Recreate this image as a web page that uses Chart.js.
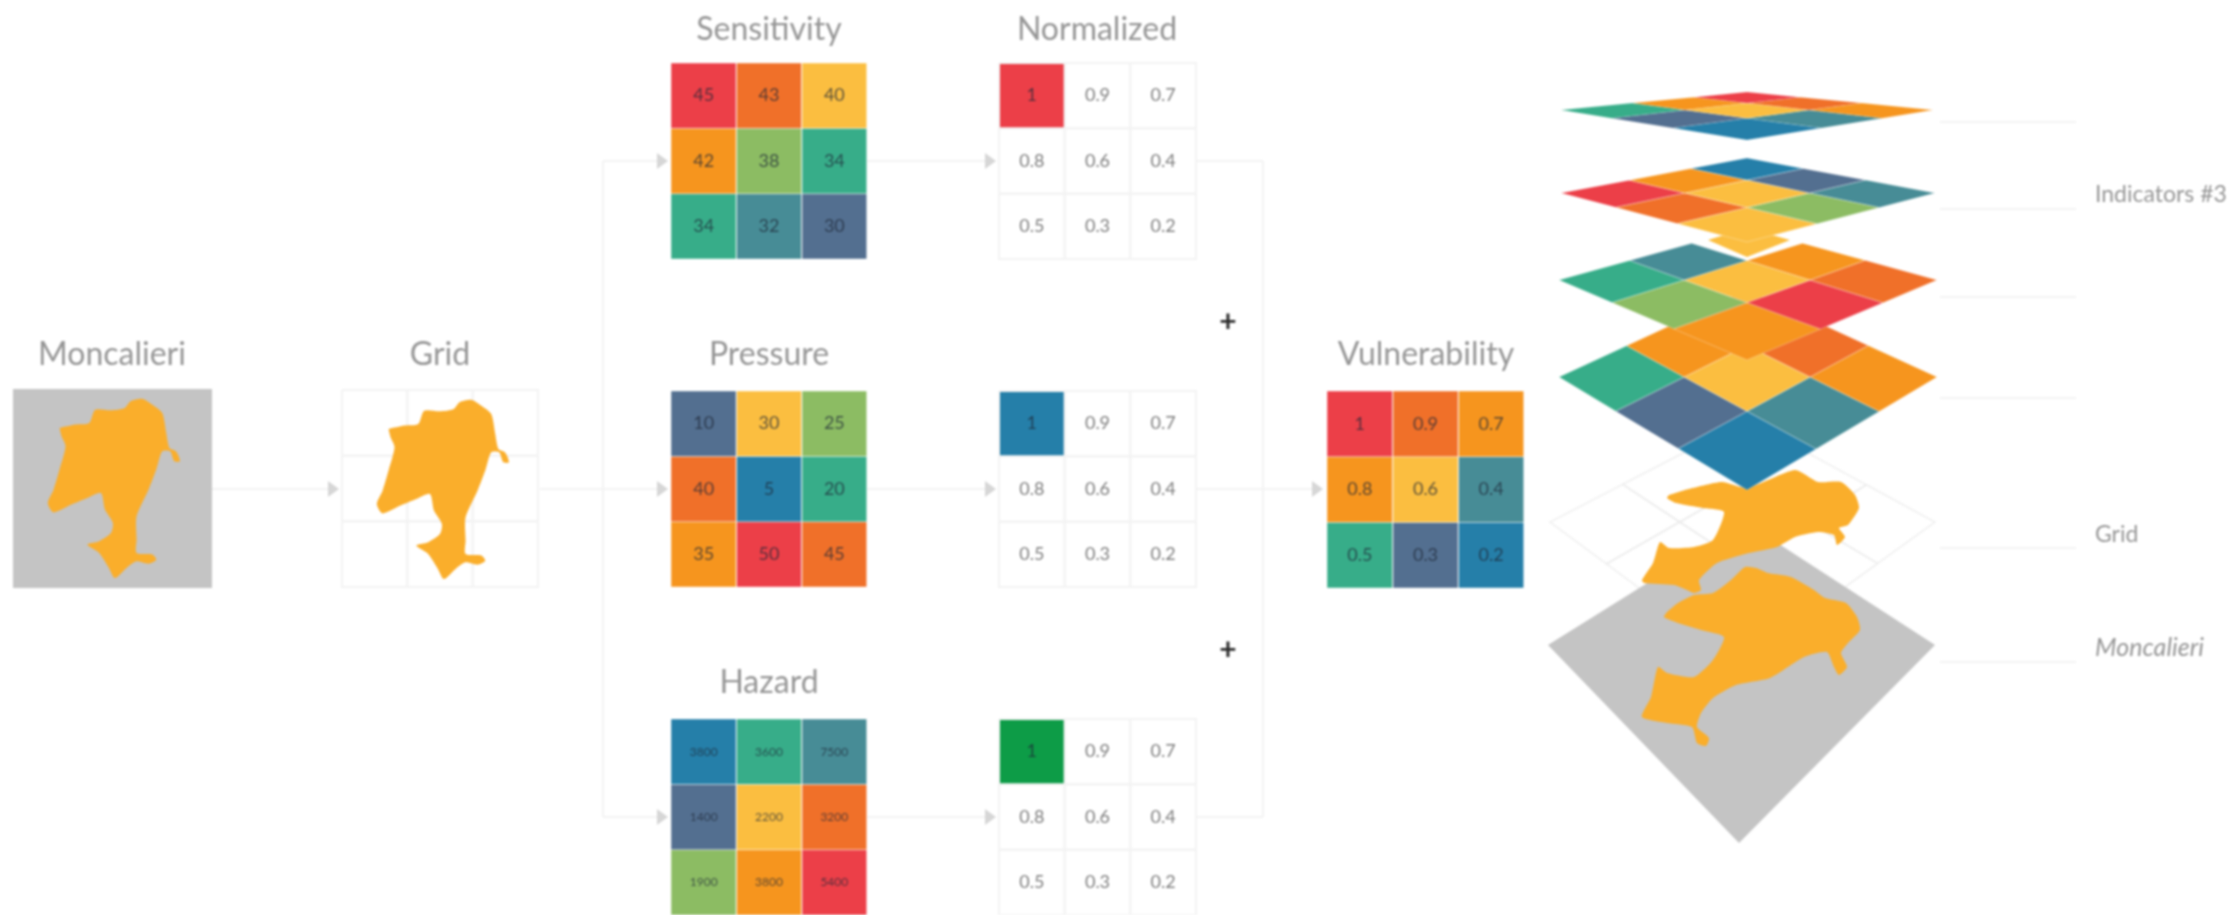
<!DOCTYPE html>
<html>
<head>
<meta charset="utf-8">
<title>Moncalieri vulnerability</title>
<script src="https://cdn.jsdelivr.net/npm/chart.js@4"></script>
<style>
  html, body { margin: 0; padding: 0; background: #fff; overflow: hidden; }
  canvas { display: block; filter: blur(1.1px); }
</style>
</head>
<body>
<canvas id="chart" width="2239" height="915"></canvas>
<script>
// matrix values, read row by row
const sensitivity = [45, 43, 40, 42, 38, 34, 34, 32, 30];
const pressure = [10, 30, 25, 40, 5, 20, 35, 50, 45];
const hazard = [3800, 3600, 7500, 1400, 2200, 3200, 1900, 3800, 5400];
const normalized = [1, 0.9, 0.7, 0.8, 0.6, 0.4, 0.5, 0.3, 0.2];

// colour names per cell
const sensitivityColors = ["red", "dkorange", "yellow", "orange", "lime", "green", "green", "teal", "slate"];
const pressureColors = ["slate", "yellow", "lime", "dkorange", "blue", "green", "orange", "red", "dkorange"];
const hazardColors = ["blue", "green", "teal", "slate", "yellow", "dkorange", "lime", "orange", "red"];
const vulnerabilityColors = ["red", "dkorange", "orange", "orange", "yellow", "teal", "green", "slate", "blue"];
const layer2Colors = ["blue", "slate", "teal", "orange", "yellow", "lime", "red", "dkorange", "yellow"];
const layer3Colors = [null, "orange", "dkorange", "teal", "yellow", "red", "green", "lime", "orange"];

const palette = {
  red: "#EC3F48", dkorange: "#F07029", yellow: "#FBBE40", orange: "#F6951E", lime: "#8CBC63",
  green: "#37AD89", teal: "#478C96", slate: "#536F90", blue: "#257FA9", dkgreen: "#0D9C47",
};
const gold = "#FAAE2B";
const grey = "#C4C4C4";
const faint = "#F3F3F3";

// municipality outline inside its square, 0..1
const outlineU = [.234, .313, .383, .413, .492, .562, .591, .651, .700, .750, .770, .786, .819, .839, .810, .790, .750, .720, .681, .621, .621, .621, .700, .720, .681, .621, .571, .512, .482, .433, .373, .433, .492, .502, .462, .442, .373, .294, .204, .175, .204, .234, .264, .244];
const outlineV = [.196, .179, .171, .104, .107, .095, .062, .050, .079, .121, .221, .296, .313, .363, .363, .313, .313, .405, .506, .640, .757, .824, .832, .858, .878, .866, .899, .950, .899, .824, .782, .765, .724, .673, .606, .523, .548, .581, .620, .573, .506, .405, .288, .238];

// the same outline as drawn on the tilted layers
const tiltedUpperX = [1669, 1685, 1722, 1747, 1795, 1818, 1841, 1855, 1859, 1848, 1839, 1845, 1837, 1834, 1818, 1795, 1777, 1749, 1717, 1699, 1701, 1694, 1687, 1674, 1644, 1642, 1653, 1660, 1669, 1694, 1713, 1724, 1703, 1676, 1667];
const tiltedUpperY = [495, 490, 482, 488, 470, 482, 482, 495, 508, 525, 528, 537, 545, 535, 532, 537, 547, 553, 563, 580, 590, 593, 590, 585, 583, 580, 563, 542, 548, 547, 540, 512, 508, 503, 498];
const tiltedLowerX = [1667, 1678, 1694, 1713, 1731, 1745, 1756, 1768, 1791, 1814, 1825, 1846, 1857, 1860, 1848, 1841, 1847, 1839, 1834, 1827, 1804, 1770, 1736, 1713, 1701, 1697, 1709, 1706, 1697, 1692, 1667, 1642, 1651, 1658, 1667, 1694, 1713, 1724, 1701, 1678, 1664];
const tiltedLowerY = [612, 603, 595, 593, 580, 567, 568, 573, 577, 590, 598, 603, 617, 630, 643, 653, 667, 675, 667, 652, 657, 678, 685, 698, 713, 727, 738, 746, 743, 727, 723, 717, 697, 667, 673, 677, 660, 637, 630, 623, 617];

const datasets = [];
const texts = [];

// square to quad projection, corners are TL, TR, BR, BL
function projector(q) {
  const dx1 = q[1][0] - q[2][0], dx2 = q[3][0] - q[2][0], sx = q[0][0] - q[1][0] + q[2][0] - q[3][0];
  const dy1 = q[1][1] - q[2][1], dy2 = q[3][1] - q[2][1], sy = q[0][1] - q[1][1] + q[2][1] - q[3][1];
  const den = dx1 * dy2 - dx2 * dy1;
  const g = (sx * dy2 - dx2 * sy) / den, h = (dx1 * sy - sx * dy1) / den;
  const a = q[1][0] - q[0][0] + g * q[1][0], b = q[3][0] - q[0][0] + h * q[3][0];
  const d = q[1][1] - q[0][1] + g * q[1][1], e = q[3][1] - q[0][1] + h * q[3][1];
  return function (u, v) {
    const w = g * u + h * v + 1;
    return { x: (a * u + b * v + q[0][0]) / w, y: (d * u + e * v + q[0][1]) / w };
  };
}

function square(x, y, w, h) {
  return [[x, y], [x + w, y], [x + w, y + h], [x, y + h]];
}

function addShape(points, fillColor, lineColor, lineWidth, tension) {
  datasets.push({
    data: points.concat([points[0]]),
    showLine: true,
    pointRadius: 0,
    tension: tension || 0,
    backgroundColor: fillColor || "transparent",
    borderColor: lineColor || "transparent",
    borderWidth: lineWidth || 0,
    fill: fillColor ? "shape" : false,
  });
}

function addLine(points, color, width) {
  datasets.push({
    data: points.map((p) => ({ x: p[0], y: p[1] })),
    showLine: true,
    pointRadius: 0,
    borderColor: color || faint,
    borderWidth: width || 2,
    fill: false,
  });
}

function addArrow(x, y) {
  addShape([{ x: x, y: y - 8 }, { x: x + 11, y: y }, { x: x, y: y + 8 }], "#D6D6D6");
}

function addCells(quad, colors, lineColor, lineWidth) {
  const p = projector(quad);
  for (let i = 8; i >= 0; i--) {
    const c = i % 3, r = Math.floor(i / 3);
    const fillColor = colors[i] ? palette[colors[i]] : null;
    if (!fillColor && !lineWidth) continue;
    addShape([p(c / 3, r / 3), p((c + 1) / 3, r / 3), p((c + 1) / 3, (r + 1) / 3), p(c / 3, (r + 1) / 3)], fillColor, lineColor, lineWidth);
  }
}

function addNumbers(quad, values, font, color, firstColor) {
  const p = projector(quad);
  values.forEach((v, i) => {
    const pos = p((i % 3 + 0.5) / 3, (Math.floor(i / 3) + 0.5) / 3);
    texts.push({ text: String(v), x: pos.x, y: pos.y, font: font, color: i === 0 && firstColor ? firstColor : color, align: "center" });
  });
}

function addOutline(quad, color) {
  const p = projector(quad);
  addShape(outlineU.map((u, i) => p(u, outlineV[i])), color, null, 0, 0.25);
}

function addTilted(xs, ys, color) {
  addShape(xs.map((x, i) => ({ x: x, y: ys[i] })), color, null, 0, 0.2);
}

// connectors go in first so everything sits on top of them
addLine([[212, 489], [328, 489]]);
addArrow(328, 489);
addLine([[540, 489], [603, 489]]);
addLine([[603, 161], [603, 817]]);
[161, 489, 817].forEach((y) => {
  addLine([[603, y], [657, y]]);
  addArrow(657, y);
  addLine([[867, y], [985, y]]);
  addArrow(985, y);
  addLine([[1196, y], [1263, y]]);
});
addLine([[1263, 161], [1263, 817]]);
addLine([[1263, 489], [1312, 489]]);
addArrow(1312, 489);

// flat panels
const noColors = new Array(9).fill(null);
const mapSquare = square(13, 389, 199, 199);
const gridSquare = square(342, 390, 196, 197);
addShape(mapSquare.map((c) => ({ x: c[0], y: c[1] })), grey);
addOutline(mapSquare, gold);
addCells(gridSquare, noColors, faint, 2);
addOutline(mapSquare.map((c) => [c[0] + 329, c[1] + 1]), gold);

const darkText = "rgba(30,40,55,0.72)";
const cellFont = "18px Lato";
const smallFont = "12px Lato";
const whiteFont = "18px Lato";
const whiteText = "#7E7E7E";
const rows = [63, 391, 719];

addCells(square(671, rows[0], 196, 196), sensitivityColors, "rgba(255,255,255,0.45)", 1);
addNumbers(square(671, rows[0], 196, 196), sensitivity, cellFont, darkText);
addCells(square(671, rows[1], 196, 196), pressureColors, "rgba(255,255,255,0.45)", 1);
addNumbers(square(671, rows[1], 196, 196), pressure, cellFont, darkText);
addCells(square(671, rows[2], 196, 196), hazardColors, "rgba(255,255,255,0.45)", 1);
addNumbers(square(671, rows[2], 196, 196), hazard, smallFont, darkText);

["red", "blue", "dkgreen"].forEach((first, i) => {
  const q = square(999, rows[i], 197, 196);
  addCells(q, [first].concat(noColors.slice(1)), faint, 2);
  addNumbers(q, normalized, whiteFont, whiteText, darkText);
});

const vulnSquare = square(1327, 391, 197, 197);
addCells(vulnSquare, vulnerabilityColors, "rgba(255,255,255,0.45)", 1);
addNumbers(vulnSquare, normalized, cellFont, darkText);

// isometric stack, bottom layer first. corners are T, R, B, L
const greyQuad = [[1745, 522], [1935, 645], [1739, 843], [1548, 645]];
const gridQuad = [[1747, 420], [1935, 522], [1740, 663], [1550, 522]];
addCells(gridQuad, noColors, "rgba(235,235,235,0.8)", 1.5);
addShape(greyQuad.map((c) => ({ x: c[0], y: c[1] })), grey);
addTilted(tiltedLowerX, tiltedLowerY, gold);
addTilted(tiltedUpperX, tiltedUpperY, gold);

addCells([[1747, 290], [1937, 377], [1747, 490], [1559, 377]], vulnerabilityColors, "rgba(255,255,255,0.3)", 1);
addCells([[1747, 228], [1937, 280], [1747, 360], [1559, 280]], layer3Colors, "rgba(255,255,255,0.3)", 1);
addShape([{ x: 1708, y: 240 }, { x: 1747, y: 228 }, { x: 1790, y: 240 }, { x: 1747, y: 257 }], palette.yellow);
addCells([[1747, 158], [1935, 193], [1747, 242], [1561, 193]], layer2Colors, "rgba(255,255,255,0.3)", 1);
addCells([[1747, 92], [1933, 110], [1747, 140], [1561, 110]], vulnerabilityColors, "rgba(255,255,255,0.3)", 0.5);

// leader lines
[122, 209, 297, 398, 548, 662].forEach((y) => addLine([[1940, y], [2076, y]], faint, 2));

// later datasets paint above earlier ones
datasets.forEach((d, i) => { d.order = datasets.length - i; });

// headings and side labels
const titleFont = "32px Lato";
const titleColor = "#969696";
[["Moncalieri", 112, 355], ["Grid", 440, 355], ["Sensitivity", 769, 30], ["Normalized", 1097, 30],
 ["Pressure", 769, 355], ["Vulnerability", 1426, 355], ["Hazard", 769, 683]].forEach((t) => {
  texts.push({ text: t[0], x: t[1], y: t[2], font: titleFont, color: titleColor, align: "center" });
});
texts.push({ text: "+", x: 1228, y: 322, font: "bold 30px Lato", color: "#2b2b2b", align: "center" });
texts.push({ text: "+", x: 1228, y: 650, font: "bold 30px Lato", color: "#2b2b2b", align: "center" });
texts.push({ text: "Indicators #3", x: 2095, y: 195, font: "23px Lato", color: titleColor, align: "left" });
texts.push({ text: "Grid", x: 2095, y: 535, font: "23px Lato", color: titleColor, align: "left" });
texts.push({ text: "Moncalieri", x: 2095, y: 648, font: "italic 25px Lato", color: titleColor, align: "left" });

const textPlugin = {
  id: "diagramText",
  afterDatasetsDraw(chart) {
    const ctx = chart.ctx;
    ctx.save();
    ctx.textBaseline = "middle";
    texts.forEach((t) => {
      ctx.font = t.font;
      ctx.fillStyle = t.color;
      ctx.textAlign = t.align;
      ctx.fillText(t.text, chart.scales.x.getPixelForValue(t.x), chart.scales.y.getPixelForValue(t.y));
    });
    ctx.restore();
  },
};

new Chart(document.getElementById("chart"), {
  type: "scatter",
  data: { datasets: datasets },
  options: {
    responsive: false,
    animation: false,
    devicePixelRatio: 1,
    layout: { padding: 0 },
    plugins: { legend: { display: false }, tooltip: { enabled: false } },
    scales: {
      x: { type: "linear", min: 0, max: 2239, display: false },
      y: { type: "linear", min: 0, max: 915, reverse: true, display: false },
    },
  },
  plugins: [textPlugin],
});
</script>
</body>
</html>
